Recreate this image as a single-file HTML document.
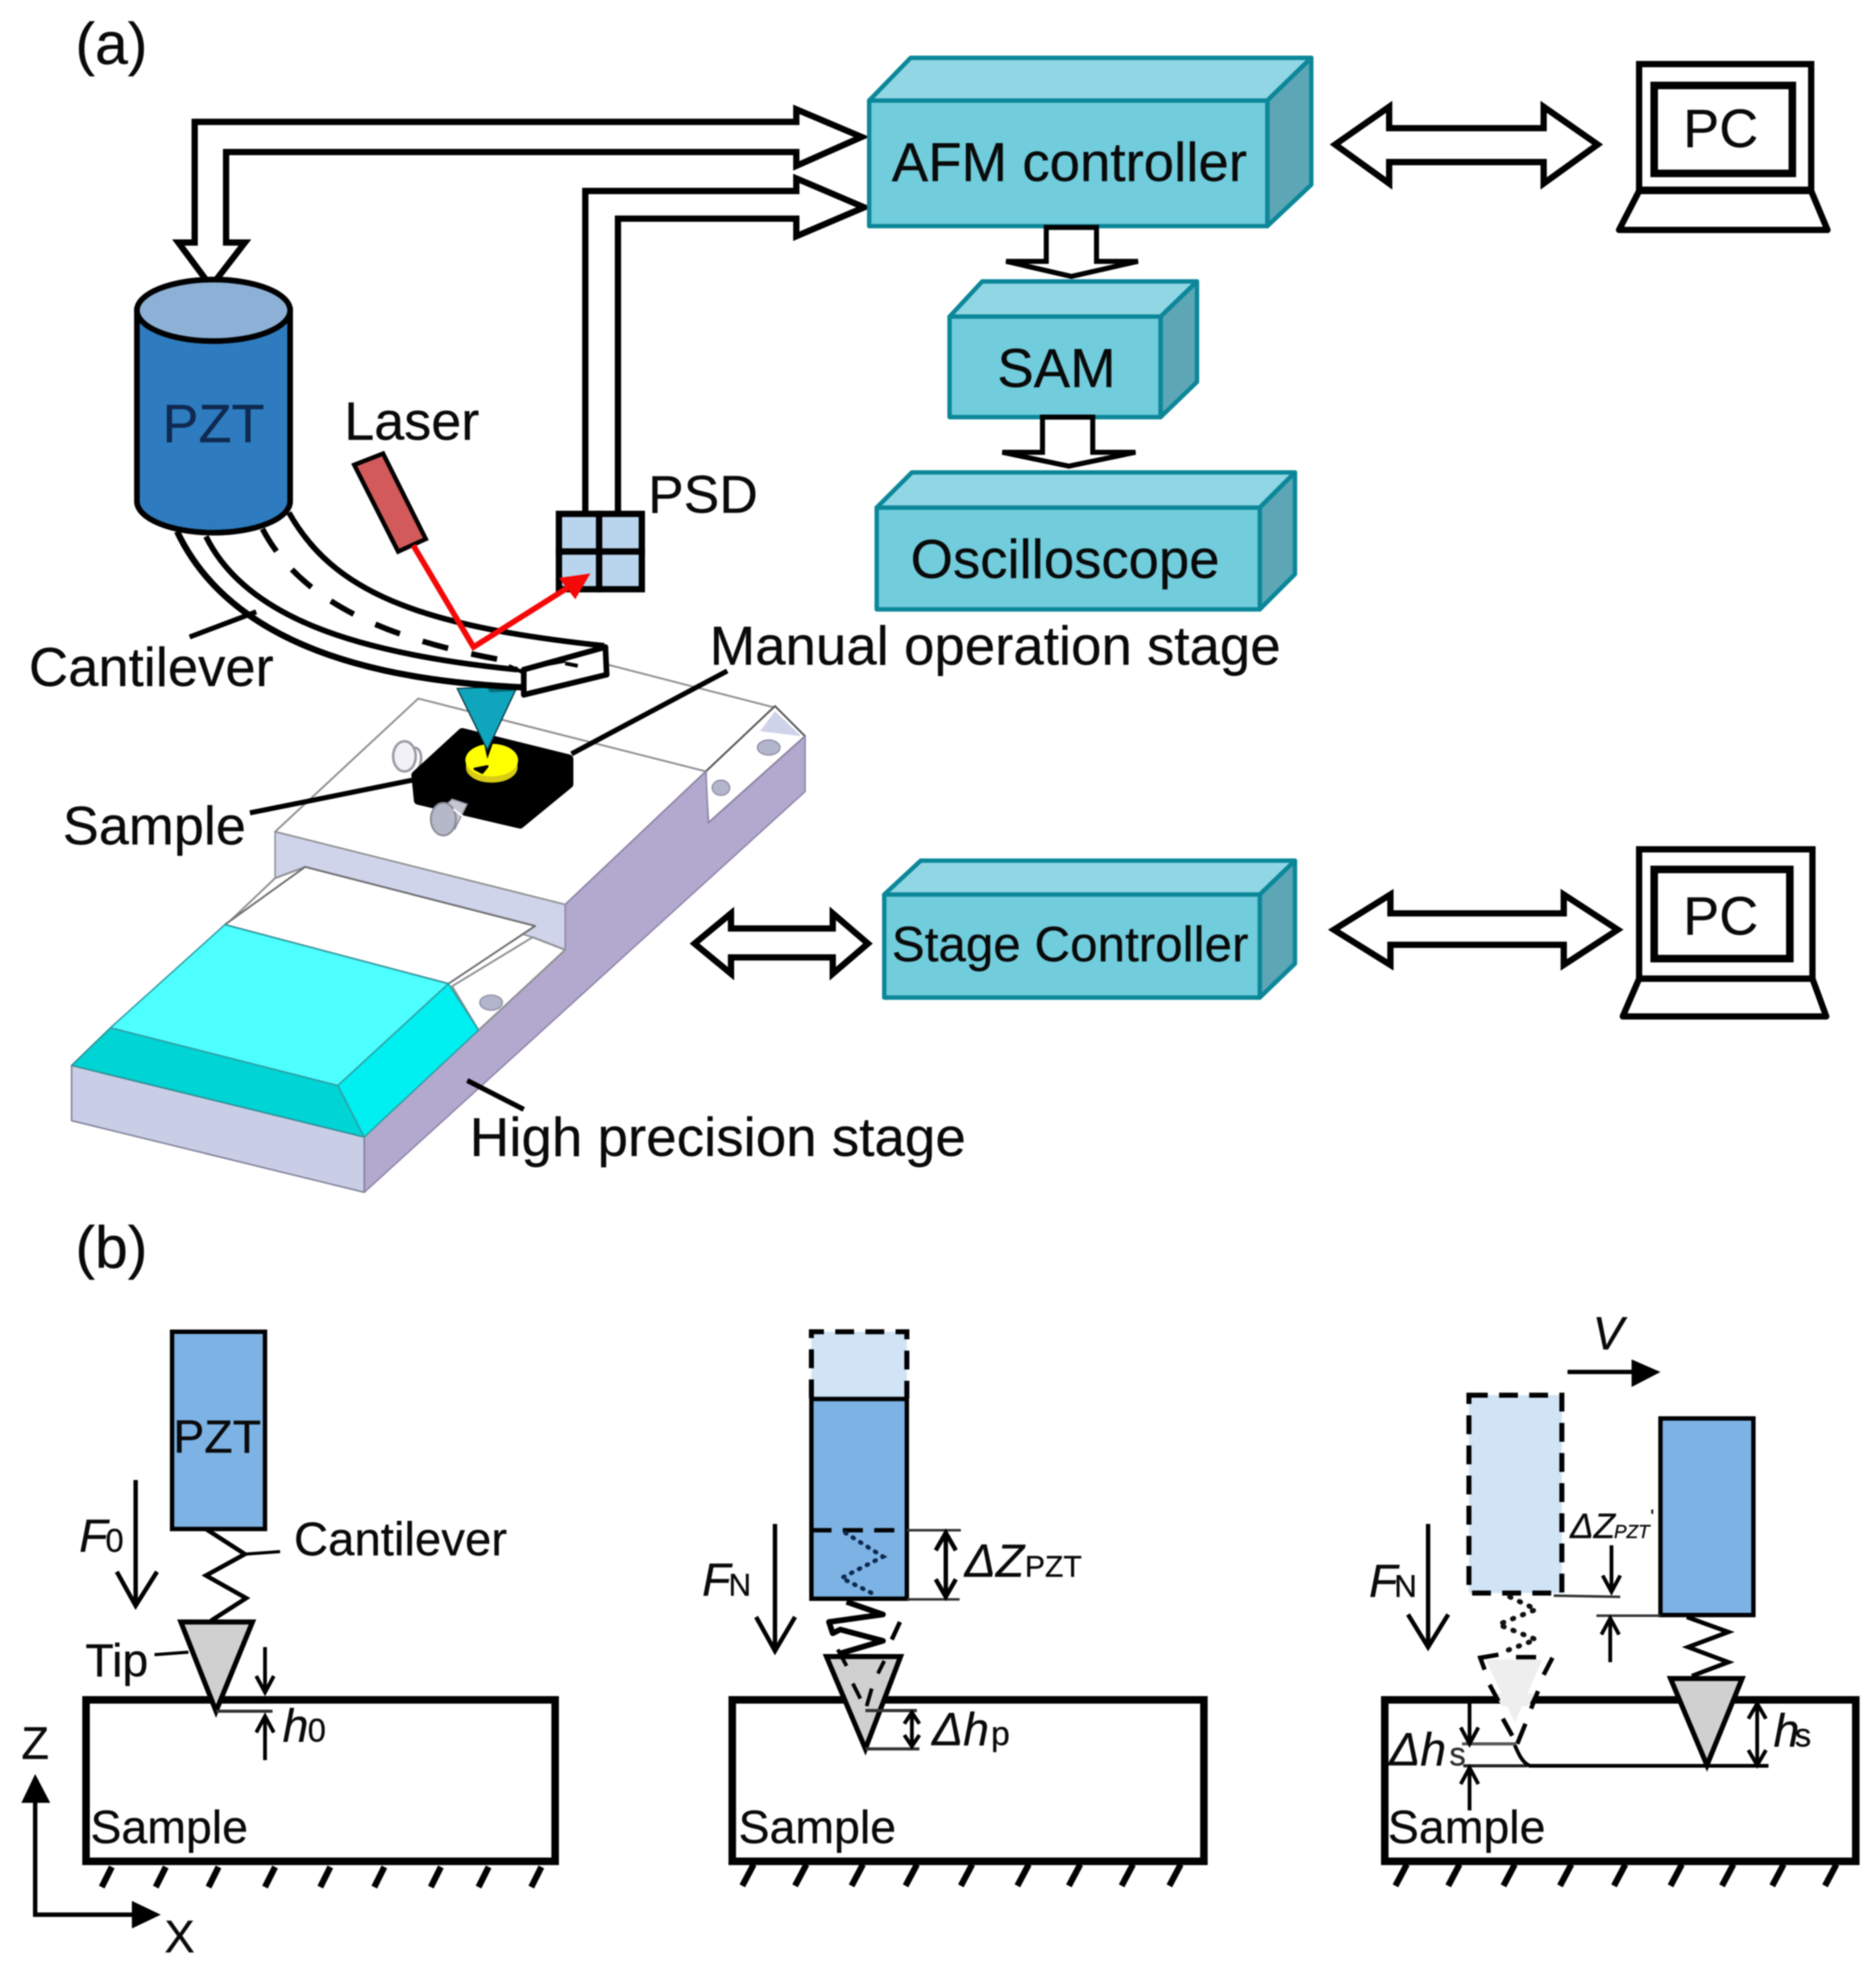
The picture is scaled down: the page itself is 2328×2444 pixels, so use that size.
<!DOCTYPE html>
<html>
<head>
<meta charset="utf-8">
<title>AFM setup diagram</title>
<style>
html,body{margin:0;padding:0;background:#fff;}
body{width:2328px;height:2444px;overflow:hidden;}
svg{display:block;filter:blur(0.9px);}
text{font-family:"Liberation Sans",Arial,sans-serif;fill:#0a0a0a;stroke:#0a0a0a;stroke-width:0.25;}
.i{font-style:italic;}
.box{stroke:#0b8799;stroke-width:3.5;stroke-linejoin:round;}
.ar{fill:#fff;stroke:#000;stroke-width:5;stroke-linejoin:miter;}
.l{fill:none;stroke:#000;stroke-width:3.5;}
.g{fill:none;stroke:#8f9094;stroke-width:1.5;}
</style>
</head>
<body>
<svg width="2328" height="2444" viewBox="0 0 1493.6 1568" xmlns="http://www.w3.org/2000/svg">
<rect width="1493.6" height="1568" fill="#fff"/>

<text x="60" y="51" font-size="47">(a)</text>
<text x="60" y="1009" font-size="47">(b)</text>

<!-- long arrows -->
<polygon class="ar" points="168,228 195,193 180,193 180,121 634,121 634,132 686,109 634,87 634,97 155,97 155,193 142,193"/>
<path class="ar" d="M466,409 L466,152 L634,152 L634,142 L688,165 L634,188 L634,174 L492,174 L492,409"/>

<!-- AFM controller -->
<polygon class="box" points="692,80 725,46 1044,46 1009,80" fill="#90d6e4"/>
<polygon class="box" points="1009,80 1044,46 1044,147 1009,180" fill="#5ca6b5"/>
<rect class="box" x="692" y="80" width="317" height="100" fill="#71ccdc"/>
<text x="710" y="144" font-size="43.5">AFM controller</text>

<!-- SAM -->
<polygon class="box" points="756,252 782,224 953,224 924,252" fill="#90d6e4"/>
<polygon class="box" points="924,252 953,224 953,304 924,332" fill="#5ca6b5"/>
<rect class="box" x="756" y="252" width="168" height="80" fill="#71ccdc"/>
<text x="794" y="308" font-size="43.5">SAM</text>

<!-- Oscilloscope -->
<polygon class="box" points="698,404 726,376 1031,376 1003,404" fill="#90d6e4"/>
<polygon class="box" points="1003,404 1031,376 1031,457 1003,485" fill="#5ca6b5"/>
<rect class="box" x="698" y="404" width="305" height="81" fill="#71ccdc"/>
<text x="725" y="460" font-size="43.4">Oscilloscope</text>

<!-- Stage controller -->
<polygon class="box" points="704,712 733,685 1031,685 1003,712" fill="#90d6e4"/>
<polygon class="box" points="1003,712 1031,685 1031,767 1003,794" fill="#5ca6b5"/>
<rect class="box" x="704" y="712" width="299" height="82" fill="#71ccdc"/>
<text x="710" y="765" font-size="39.3">Stage Controller</text>

<!-- down arrows -->
<polygon class="ar" style="stroke-width:4" points="833,181 833,208 801,208 853,220 906,208 873,208 873,181"/>
<polygon class="ar" style="stroke-width:4" points="830,332 830,360 798,360 851,371 904,360 870,360 870,332"/>

<!-- double arrows -->
<polygon class="ar" points="1063,115 1106,85 1106,102 1229,102 1229,85 1272,115 1229,146 1229,129 1106,129 1106,146"/>
<polygon class="ar" points="1062,740 1107,712 1107,727 1245,727 1245,712 1288,740 1245,768 1245,752 1107,752 1107,768"/>
<polygon class="ar" points="553,751 582,727 582,739 663,739 663,727 691,751 663,775 663,762 582,762 582,775"/>

<!-- PCs -->
<g fill="#fff" stroke="#000" stroke-width="5">
<rect x="1305" y="51" width="137" height="100"/>
<rect x="1317" y="68" width="110" height="70" stroke-width="6"/>
<polygon points="1305,152 1442,152 1455,183 1289,183" stroke-linejoin="round"/>
<rect x="1305" y="676" width="138" height="103"/>
<rect x="1317" y="692" width="108" height="71" stroke-width="6"/>
<polygon points="1305,779 1443,779 1454,809 1292,809" stroke-linejoin="round"/>
</g>
<text x="1370" y="117" font-size="43" text-anchor="middle">PC</text>
<text x="1370" y="744" font-size="43" text-anchor="middle">PC</text>

<!-- Stage -->
<g stroke-linejoin="round">
<line x1="476" y1="527" x2="616" y2="563" class="g"/>
<polygon points="333,556 219,662 450,720 562,614" fill="#fff" class="g"/>
<polygon points="219,662 450,720 450,756 424,746 243,690 219,699" fill="#d0d4ea" stroke="#8f9094" stroke-width="1.2"/>
<polygon points="562,614 617,562 641,586 564,655 562,625" fill="#fff" stroke="#555" stroke-width="1.5"/>
<polygon points="617,566 605,582 638,586" fill="#cfd3ea"/>
<polygon points="641,586 641,630 290,949 290,905 381,820 450,756 450,720 562,614 564,655" fill="#b3a9cf" stroke="#8d86aa" stroke-width="1.2"/>
<polygon points="219,699 243,690 190,735 180,736" fill="#fff" class="g"/>
<polygon points="424,746 450,756 381,820 360,785" fill="#fff" class="g"/>
<polygon points="243,690 426,737 357,783 179,736" fill="#fff" stroke="#6c6d70" stroke-width="1.5"/>
<polygon points="57,848 57,892 290,949 290,905" fill="#c9cee6" stroke="#7f8098" stroke-width="1.2"/>
<polygon points="57,848 88,818 269,864 290,905" fill="#00d4d4" stroke="#2f8f97" stroke-width="1.2"/>
<polygon points="88,818 179,736 357,783 269,864" fill="#4dffff" stroke="#2f9fa5" stroke-width="1.2"/>
<polygon points="357,783 381,820 290,905 269,864" fill="#00eff0" stroke="#2f9fa5" stroke-width="1.2"/>
<ellipse cx="391" cy="798" rx="9" ry="6" fill="#b3b5cc" stroke="#8d8ea4"/>
<ellipse cx="612" cy="595" rx="9" ry="6" fill="#b3b5cc" stroke="#8d8ea4"/>
<ellipse cx="574" cy="627" rx="7" ry="6" fill="#b3b5cc" stroke="#8d8ea4"/>
<!-- knob back -->
<path d="M330,595 C338,596 336,612 330,614" fill="#fff" stroke="#9a9aa6" stroke-width="2"/>
<ellipse cx="322" cy="602" rx="9" ry="12" fill="#f2f2f6" stroke="#9a9aa6" stroke-width="2"/>
<!-- black block -->
<polygon points="368,583 453,604 453,624 414,656 333,637 331,617" fill="#000" stroke="#000" stroke-width="7"/>
<rect x="334" y="625" width="0" height="0"/>
<path d="M371,604 A20.500,12 0 0 0 412,604 V611 A20.500,12 0 0 1 371,611 Z" fill="#d9cc14"/>
<ellipse cx="391.500" cy="605" rx="21" ry="13" fill="#ffff00"/>
<polygon points="385,590 393,590 388,604" fill="#000"/>
<path d="M378,612 L388,610 L384,615 Z" fill="#000" stroke="#000" stroke-width="2"/>
<!-- knob front -->
<polygon points="360,636 372,640 362,660 345,650" fill="#c4c6d2" stroke="#8a8a96" stroke-width="1"/>
<ellipse cx="353" cy="652" rx="10" ry="13" fill="#b5b8c8" stroke="#8a8a96" stroke-width="1.5"/>
<line x1="361" y1="644" x2="369" y2="650" stroke="#fff" stroke-width="1.5"/>
</g>

<!-- Tip cone -->
<polygon points="364,548 412,546 388,597" fill="#0fa5bd" stroke="#08333d" stroke-width="1"/>
<polygon points="388,547 412,545 411,550 390,551" fill="#0c6a7a"/>

<!-- Cantilever -->
<path d="M141,423 C175,495 260,540 415,547 L417,553 L483,537 L483,514 L481,514 C330,498 265,470 230,408 Z" fill="#fff"/>
<path d="M141,423 C175,495 260,540 415,547" fill="none" stroke="#000" stroke-width="5"/>
<path d="M164,427 C195,490 280,520 412,533" fill="none" stroke="#000" stroke-width="4.5"/>
<path d="M230,408 C265,470 330,498 481,514" fill="none" stroke="#000" stroke-width="4.5"/>
<path d="M209,421 C240,480 310,510 409,527" fill="none" stroke="#000" stroke-width="4.5" stroke-dasharray="21 19"/>
<polygon points="417,533 482,515 483,537 417,553" fill="#fff" stroke="#000" stroke-width="4.5" stroke-linejoin="round"/>
<line x1="417" y1="541" x2="480" y2="525" stroke="#000" stroke-width="0"/>
<line x1="428" y1="530" x2="450" y2="526" stroke="#000" stroke-width="3"/>
<line x1="450" y1="528" x2="460" y2="530" stroke="#000" stroke-width="3"/>
<line x1="405" y1="530" x2="416" y2="535" stroke="#000" stroke-width="3"/>

<!-- PZT cylinder -->
<path d="M109,247 L109,399 A61,25 0 0 0 231,399 L231,247 Z" fill="#2e7cbf" stroke="#000" stroke-width="4.5"/>
<ellipse cx="170" cy="247" rx="61" ry="24.5" fill="#8cb0d6" stroke="#000" stroke-width="4.5"/>
<text x="170" y="352" font-size="43" text-anchor="middle" style="fill:#0f2a52;stroke:#0f2a52">PZT</text>

<!-- Laser & PSD -->
<polygon points="282,370 305,361 339,429 317,439" fill="#d25a5a" stroke="#000" stroke-width="3.5"/>
<g fill="#b9d5ee" stroke="#000" stroke-width="5">
<rect x="445" y="409" width="32" height="30"/>
<rect x="477" y="409" width="34" height="30"/>
<rect x="445" y="439" width="32" height="30"/>
<rect x="477" y="439" width="34" height="30"/>
</g>
<polyline points="329,434 377,515 458,464" fill="none" stroke="#f40808" stroke-width="4.5" stroke-linejoin="miter"/>
<polygon points="470,456.500 445,460 458,477" fill="#f40808"/>

<!-- labels panel a -->
<g stroke="#000" stroke-width="4">
<line x1="151" y1="507" x2="204" y2="487"/>
<line x1="455" y1="600" x2="579" y2="534"/>
<line x1="199" y1="647" x2="328" y2="621"/>
<line x1="372" y1="860" x2="417" y2="883"/>
</g>
<text x="274" y="350" font-size="43">Laser</text>
<text x="516" y="408" font-size="42.5">PSD</text>
<text x="23" y="546" font-size="43.3">Cantilever</text>
<text x="565" y="529" font-size="43.5">Manual operation stage</text>
<text x="50" y="672" font-size="43">Sample</text>
<text x="374" y="920" font-size="43.6">High precision stage</text>

<!-- Panel b1 -->
<rect x="68.5" y="1353" width="373.5" height="128.5" fill="#fff" stroke="#000" stroke-width="6"/>
<rect x="137" y="1060" width="74" height="157" fill="#7db2e4" stroke="#000" stroke-width="3.5"/>
<text x="138" y="1156" font-size="37">PZT</text>
<polyline class="l" points="164,1217 195,1237 164,1254 196,1272 168,1290"/>
<line x1="195" y1="1237" x2="223" y2="1235" stroke="#000" stroke-width="2.5"/>
<text x="234" y="1238" font-size="37.7">Cantilever</text>
<polygon points="144,1291 201,1291 172,1362" fill="#d0d0d0" stroke="#000" stroke-width="4"/>
<text x="68" y="1334" font-size="37">Tip</text>
<line x1="123" y1="1317" x2="150" y2="1315" stroke="#000" stroke-width="2.5"/>
<line class="l" x1="108" y1="1178" x2="108" y2="1278"/>
<polyline class="l" points="93,1251 108,1278 125,1251"/>
<text class="i" x="63" y="1235" font-size="37">F</text>
<text x="84" y="1235" font-size="26">0</text>
<line x1="172" y1="1362" x2="217" y2="1362" stroke="#333" stroke-width="2.5"/>
<line class="l" x1="211" y1="1311" x2="211" y2="1346" style="stroke-width:3"/>
<polyline class="l" style="stroke-width:3" points="204,1334 211,1347 218,1334"/>
<line class="l" x1="211" y1="1367" x2="211" y2="1401" style="stroke-width:3"/>
<polyline class="l" style="stroke-width:3" points="204,1379 211,1366 218,1379"/>
<text class="i" x="225" y="1386" font-size="37">h</text>
<text x="245" y="1386" font-size="26">0</text>
<text x="72" y="1467" font-size="37">Sample</text>
<g stroke="#000" stroke-width="5">
<line x1="81" y1="1502" x2="89" y2="1486"/><line x1="124" y1="1502" x2="132" y2="1486"/><line x1="166" y1="1502" x2="174" y2="1486"/><line x1="211" y1="1502" x2="219" y2="1486"/><line x1="255" y1="1502" x2="263" y2="1486"/><line x1="298" y1="1502" x2="306" y2="1486"/><line x1="343" y1="1502" x2="351" y2="1486"/><line x1="381" y1="1502" x2="389" y2="1486"/><line x1="423" y1="1502" x2="431" y2="1486"/>
</g>
<!-- axes -->
<text x="17" y="1400" font-size="36">Z</text>
<polyline class="l" points="28,1430 28,1524 110,1524"/>
<polygon points="28,1412 17,1435 40,1435"/>
<polygon points="128,1524 105,1513 105,1535"/>
<text x="131" y="1554" font-size="36">X</text>

<!-- Panel b2 -->
<rect x="583" y="1353" width="375.500" height="128.500" fill="#fff" stroke="#000" stroke-width="6"/>
<rect x="646" y="1060" width="76" height="53" fill="#d0e4f6"/>
<path d="M646,1113 V1060 H722 V1113" fill="none" stroke="#000" stroke-width="4" stroke-dasharray="15 9"/>
<rect x="646" y="1113.500" width="76" height="159" fill="#7db2e4" stroke="#000" stroke-width="3.500"/>
<line x1="646" y1="1218" x2="722" y2="1218" stroke="#000" stroke-width="3.500" stroke-dasharray="16 9"/>
<line x1="722" y1="1218" x2="765" y2="1218" stroke="#333" stroke-width="2"/>
<line x1="722" y1="1273" x2="764" y2="1273" stroke="#333" stroke-width="2"/>
<line class="l" x1="753" y1="1221" x2="753" y2="1270"/>
<polyline class="l" points="745,1234 753,1220 761,1234"/>
<polyline class="l" points="745,1257 753,1271 761,1257"/>
<text class="i" x="768" y="1255" font-size="37">ΔZ</text>
<text x="816" y="1255" font-size="24">PZT</text>
<polyline points="673,1220 703,1239 670,1256 694,1268" fill="none" stroke="#0c2a50" stroke-width="3.500" stroke-dasharray="1 6" stroke-linecap="round"/>
<polyline points="674,1275 703,1285 660,1291 663,1300 669,1297 703,1306 669,1316" fill="none" stroke="#000" stroke-width="4.500" stroke-linejoin="round"/>
<polygon points="658,1318.500 717,1318.500 689,1392" fill="#d0d0d0" stroke="#000" stroke-width="4"/>
<line x1="716.500" y1="1291" x2="710" y2="1305" stroke="#000" stroke-width="3.500"/>
<g stroke="#000" stroke-width="3">
<line x1="667" y1="1313" x2="674" y2="1326"/>
<line x1="704" y1="1322" x2="699" y2="1332"/>
<line x1="679" y1="1340" x2="685" y2="1352"/>
<line x1="694" y1="1344" x2="690" y2="1358"/>
</g>
<line x1="689" y1="1361.500" x2="730" y2="1361.500" stroke="#333" stroke-width="2.500"/>
<line x1="689" y1="1392" x2="732" y2="1392" stroke="#333" stroke-width="2.500"/>
<line class="l" x1="726" y1="1363" x2="726" y2="1390" style="stroke-width:3"/>
<polyline class="l" style="stroke-width:3" points="720,1372 726,1363 732,1372"/>
<polyline class="l" style="stroke-width:3" points="720,1381 726,1390 732,1381"/>
<text class="i" x="742" y="1389" font-size="37">Δh</text>
<text x="789" y="1389" font-size="27">p</text>
<line class="l" x1="617" y1="1213" x2="617" y2="1314"/>
<polyline class="l" points="602,1287 617,1314 633,1287"/>
<text class="i" x="559" y="1270" font-size="37">F</text>
<text x="580" y="1270" font-size="25">N</text>
<text x="588" y="1467" font-size="37">Sample</text>
<g stroke="#000" stroke-width="5">
<line x1="591" y1="1501" x2="600" y2="1484"/><line x1="633" y1="1501" x2="642" y2="1484"/><line x1="678" y1="1501" x2="687" y2="1484"/><line x1="721" y1="1501" x2="730" y2="1484"/><line x1="765" y1="1501" x2="774" y2="1484"/><line x1="810" y1="1501" x2="819" y2="1484"/><line x1="851" y1="1501" x2="860" y2="1484"/><line x1="893" y1="1501" x2="902" y2="1484"/><line x1="931" y1="1501" x2="940" y2="1484"/>
</g>

<!-- Panel b3 -->
<rect x="1102.500" y="1353" width="375" height="128.500" fill="#fff" stroke="#000" stroke-width="6"/>
<rect x="1169.500" y="1110.500" width="74" height="157.500" fill="#d0e4f6" stroke="#000" stroke-width="4" stroke-dasharray="15 9"/>
<rect x="1322" y="1129" width="74" height="156.500" fill="#7db2e4" stroke="#000" stroke-width="3.500"/>
<text class="i" x="1268" y="1074" font-size="37">V</text>
<line class="l" x1="1248" y1="1092" x2="1302" y2="1092"/>
<polygon points="1322,1092 1299,1082 1299,1104"/>
<text class="i" x="1250" y="1224" font-size="28">ΔZ</text>
<text class="i" x="1285" y="1224" font-size="15">PZT</text>
<text x="1314" y="1212" font-size="15">'</text>
<line x1="1237" y1="1270" x2="1290" y2="1271" stroke="#333" stroke-width="2"/>
<line x1="1271" y1="1286" x2="1322" y2="1286" stroke="#333" stroke-width="2"/>
<line class="l" x1="1283" y1="1230" x2="1283" y2="1266" style="stroke-width:3"/>
<polyline class="l" style="stroke-width:3" points="1276,1254 1283,1267 1290,1254"/>
<line class="l" x1="1282" y1="1289" x2="1282" y2="1323" style="stroke-width:3"/>
<polyline class="l" style="stroke-width:3" points="1275,1301 1282,1288 1289,1301"/>
<line class="l" x1="1137" y1="1213" x2="1137" y2="1311"/>
<polyline class="l" points="1121,1285 1137,1311 1153,1285"/>
<text class="i" x="1090" y="1271" font-size="37">F</text>
<text x="1110" y="1271" font-size="25">N</text>
<polyline points="1202,1271 1223,1281 1193,1293 1223,1305 1199,1314" fill="none" stroke="#111" stroke-width="4" stroke-dasharray="1 7.500" stroke-linecap="round"/>
<polygon points="1183,1321 1228,1321 1206,1371" fill="#eeeeee"/>
<polygon points="1189,1348 1222,1348 1217,1358 1196,1358" fill="#eeeeee"/>
<g fill="none" stroke="#000" stroke-width="3.500">
<polyline points="1193,1317 1178.500,1319.500 1182,1329"/>
<line x1="1207" y1="1319" x2="1223" y2="1319"/>
<line x1="1236" y1="1319.500" x2="1229" y2="1333"/>
<line x1="1186" y1="1341" x2="1193" y2="1354"/>
<line x1="1224.500" y1="1346" x2="1219" y2="1360"/>
<line x1="1196.500" y1="1368" x2="1204" y2="1381.500"/>
<line x1="1214.500" y1="1372" x2="1208" y2="1388"/>
</g>
<line x1="1164" y1="1388" x2="1207" y2="1388" stroke="#555" stroke-width="2.500"/>
<line x1="1165" y1="1405.500" x2="1216" y2="1405.500" stroke="#222" stroke-width="2.500"/>
<path d="M1206,1389 C1209,1396 1212,1403 1218,1405.500 L1408,1405.500" fill="none" stroke="#000" stroke-width="3"/>
<polyline class="l" points="1343,1287 1376,1299 1344,1311 1376,1323 1347,1334"/>
<polygon points="1330,1336 1387,1336 1359,1405" fill="#d0d0d0" stroke="#000" stroke-width="4"/>
<line class="l" x1="1170" y1="1355" x2="1170" y2="1387" style="stroke-width:3"/>
<polyline class="l" style="stroke-width:3" points="1163,1375 1170,1388 1177,1375"/>
<line class="l" x1="1170" y1="1408" x2="1170" y2="1441" style="stroke-width:3"/>
<polyline class="l" style="stroke-width:3" points="1163,1420 1170,1407 1177,1420"/>
<line class="l" x1="1399" y1="1356" x2="1399" y2="1405" style="stroke-width:3"/>
<polyline class="l" style="stroke-width:3" points="1392,1368 1399,1356 1406,1368"/>
<polyline class="l" style="stroke-width:3" points="1392,1393 1399,1405 1406,1393"/>
<text class="i" x="1106" y="1405" font-size="37">Δh</text>
<text x="1154" y="1405" font-size="26" style="fill:#333">s</text>
<text class="i" x="1412" y="1390" font-size="37">h</text>
<text x="1429" y="1390" font-size="26">s</text>
<text x="1105" y="1467" font-size="37">Sample</text>
<g stroke="#000" stroke-width="5">
<line x1="1111" y1="1501" x2="1120" y2="1484"/><line x1="1153" y1="1501" x2="1162" y2="1484"/><line x1="1197" y1="1501" x2="1206" y2="1484"/><line x1="1242" y1="1501" x2="1251" y2="1484"/><line x1="1285" y1="1501" x2="1294" y2="1484"/><line x1="1330" y1="1501" x2="1339" y2="1484"/><line x1="1371" y1="1501" x2="1380" y2="1484"/><line x1="1411" y1="1501" x2="1420" y2="1484"/><line x1="1453" y1="1501" x2="1462" y2="1484"/>
</g>
</svg>
</body>
</html>
